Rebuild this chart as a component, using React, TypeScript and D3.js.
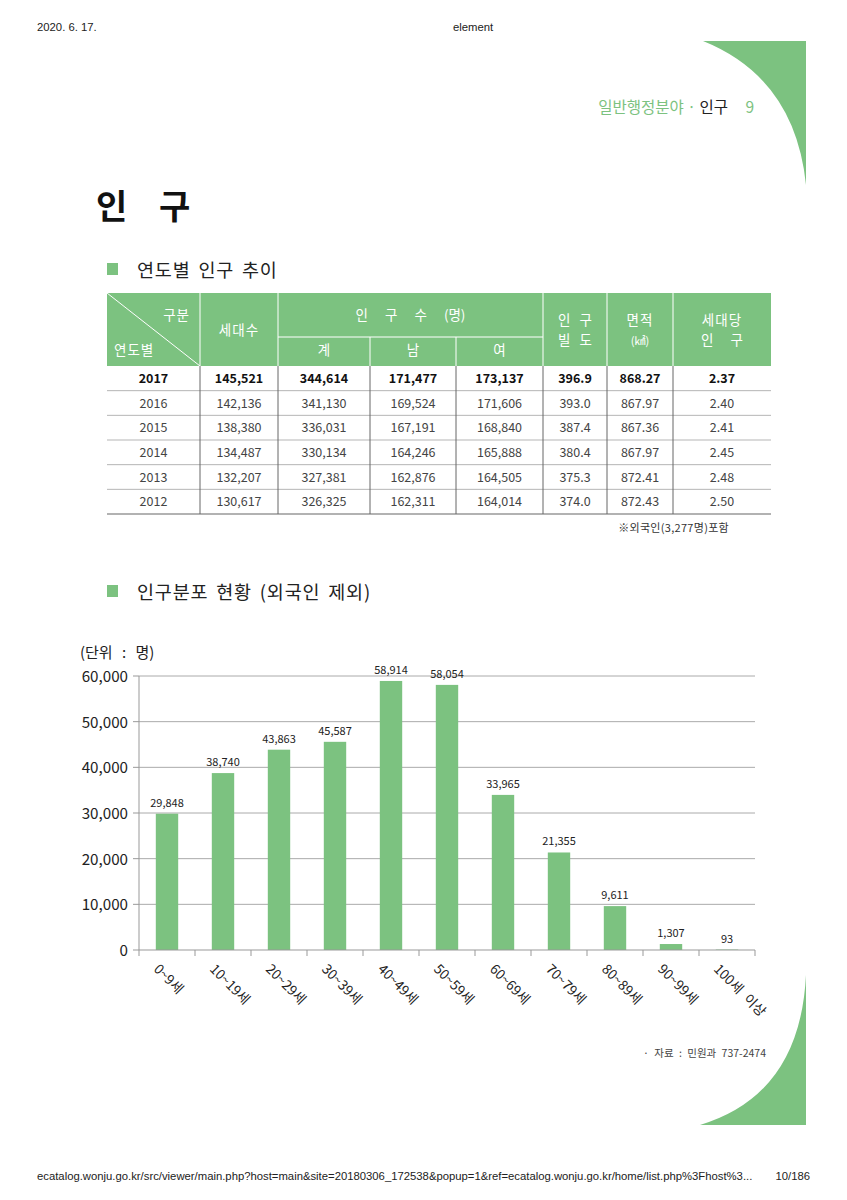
import React, { useEffect } from "react";
import * as d3 from "d3";

// ---------- data ----------
const ageGroups = ["0~9세", "10~19세", "20~29세", "30~39세", "40~49세", "50~59세", "60~69세", "70~79세", "80~89세", "90~99세", "100세 이상"];
const population = [29848, 38740, 43863, 45587, 58914, 58054, 33965, 21355, 9611, 1307, 93];
const yTicks = [0, 10000, 20000, 30000, 40000, 50000, 60000];

const years = ["2017", "2016", "2015", "2014", "2013", "2012"];
const households = ["145,521", "142,136", "138,380", "134,487", "132,207", "130,617"];
const popTotal = ["344,614", "341,130", "336,031", "330,134", "327,381", "326,325"];
const popMale = ["171,477", "169,524", "167,191", "164,246", "162,876", "162,311"];
const popFemale = ["173,137", "171,606", "168,840", "165,888", "164,505", "164,014"];
const density = ["396.9", "393.0", "387.4", "380.4", "375.3", "374.0"];
const area = ["868.27", "867.97", "867.36", "867.97", "872.41", "872.43"];
const perHousehold = ["2.37", "2.40", "2.41", "2.45", "2.48", "2.50"];

const GREEN = "#7cc280";
const KR = "'Noto Sans CJK KR', 'Noto Sans', sans-serif";
const ARIAL = "'Liberation Sans', Arial, sans-serif";

export default function App() {
  useEffect(() => {
    document.body.style.margin = "0";
  }, []);

  // ---------- table geometry ----------
  const colEdges = [107, 200, 278, 370, 456, 543, 607, 673, 771];
  const headTop = 293, headMid = 337, headBot = 366, tableBot = 514;
  const rowY = d3.scaleBand<number>().domain(d3.range(years.length)).range([headBot, tableBot]);
  const cols = [years, households, popTotal, popMale, popFemale, density, area, perHousehold];
  const colCenter = (i: number) => (colEdges[i] + colEdges[i + 1]) / 2;

  // ---------- chart geometry ----------
  const x0 = 139, x1 = 755, yTop = 676, yBot = 950;
  const x = d3.scaleBand<string>().domain(ageGroups).range([x0, x1]).paddingInner(0.6).paddingOuter(0.3);
  const y = d3.scaleLinear().domain([0, 60000]).range([yBot, yTop]);
  const step = x.step();
  const fmt = d3.format(",");

  return (
    <div style={{ position: "absolute", left: 0, top: 0 }}>
      <svg width={847} height={1200} viewBox="0 0 847 1200" style={{ display: "block", background: "#fff" }}>
        {/* browser header/footer */}
        <text x={37} y={31} fontFamily={ARIAL} fontSize={11.3} fill="#222">2020. 6. 17.</text>
        <text x={473} y={31} fontFamily={ARIAL} fontSize={11.3} fill="#222" textAnchor="middle">element</text>
        <text x={37} y={1180} fontFamily={ARIAL} fontSize={11.3} fill="#222">ecatalog.wonju.go.kr/src/viewer/main.php?host=main&amp;site=20180306_172538&amp;popup=1&amp;ref=ecatalog.wonju.go.kr/home/list.php%3Fhost%3...</text>
        <text x={810} y={1180} fontFamily={ARIAL} fontSize={11.3} fill="#222" textAnchor="end">10/186</text>

        {/* decorative shapes */}
        <path d="M703,41 Q795,78 806,185 L806,41 Z" fill={GREEN} />
        <path d="M700,1125 Q800,1095 806,975 L806,1125 Z" fill={GREEN} />

        {/* page header */}
        <text x={754} y={113} fontFamily={KR} fontSize={15.5} textAnchor="end" style={{ whiteSpace: "pre" }}>
          <tspan fill={GREEN}>일반행정분야 · </tspan>
          <tspan fill="#222">인구</tspan>
          <tspan fill={GREEN}>{"     9"}</tspan>
        </text>

        {/* title */}
        <text y={219} fontFamily={KR} fontSize={34} fontWeight={700} fill="#111">
          <tspan x={96}>인</tspan>
          <tspan x={159}>구</tspan>
        </text>

        {/* section 1 */}
        <rect x={107} y={263} width={11} height={12} fill={GREEN} />
        <text x={137} y={277} fontFamily={KR} fontSize={18.5} letterSpacing={0.8} wordSpacing={3} fill="#222" style={{ whiteSpace: "pre" }}>연도별 인구 추이</text>

        {/* table header */}
        <rect x={colEdges[0]} y={headTop} width={colEdges[8] - colEdges[0]} height={headBot - headTop} fill={GREEN} />
        {colEdges.slice(1, 8).map((cx, i) => (
          <line key={"hv" + i} x1={cx} x2={cx} y1={i === 2 || i === 3 ? headMid : headTop} y2={headBot} stroke="#fff" strokeWidth={1} />
        ))}
        <line x1={colEdges[2]} x2={colEdges[5]} y1={headMid} y2={headMid} stroke="#fff" strokeWidth={1} />
        <line x1={colEdges[0]} y1={headTop} x2={colEdges[1]} y2={headBot} stroke="#fff" strokeWidth={1} />
        <g fontFamily={KR} fontSize={13.5} fill="#fff" style={{ whiteSpace: "pre" }}>
          <text x={190} y={320} textAnchor="end" letterSpacing={1}>구분</text>
          <text x={114} y={355} letterSpacing={1}>연도별</text>
          <text x={colCenter(1)} y={335} textAnchor="middle" letterSpacing={1}>세대수</text>
          <text x={(colEdges[2] + colEdges[5]) / 2} y={320} textAnchor="middle" wordSpacing={14}>인 구 수 (명)</text>
          <text x={colCenter(2)} y={355} textAnchor="middle">계</text>
          <text x={colCenter(3)} y={355} textAnchor="middle">남</text>
          <text x={colCenter(4)} y={355} textAnchor="middle">여</text>
          <text x={colCenter(5)} y={325} textAnchor="middle" wordSpacing={6}>인 구</text>
          <text x={colCenter(5)} y={345} textAnchor="middle" wordSpacing={6}>빌 도</text>
          <text x={colCenter(6)} y={325} textAnchor="middle" letterSpacing={1}>면적</text>
          <text x={colCenter(6)} y={345} textAnchor="middle" fontSize={11}>(㎢)</text>
          <text x={colCenter(7)} y={325} textAnchor="middle" letterSpacing={1}>세대당</text>
          <text x={colCenter(7)} y={345} textAnchor="middle" wordSpacing={14}>인 구</text>
        </g>

        {/* table body */}
        {years.map((_, r) => (
          <line key={"hl" + r} x1={colEdges[0]} x2={colEdges[8]} y1={(rowY(r) as number) + rowY.bandwidth()} y2={(rowY(r) as number) + rowY.bandwidth()} stroke={r === years.length - 1 ? "#999" : "#b5b5b5"} strokeWidth={r === years.length - 1 ? 1.5 : 1} />
        ))}
        {colEdges.slice(1, 8).map((cx, i) => (
          <line key={"bv" + i} x1={cx} x2={cx} y1={headBot} y2={tableBot} stroke="#666" strokeWidth={1} />
        ))}
        {years.map((_, r) => (
          <g key={"row" + r}>
            {cols.map((col, c) => (
              <text key={c} x={colCenter(c)} y={(rowY(r) as number) + rowY.bandwidth() / 2 + 4.5} textAnchor="middle" fontFamily={KR} fontSize={12.5} fill={r === 0 ? "#111" : "#444"} fontWeight={r === 0 ? 600 : 400}>
                {col[r]}
              </text>
            ))}
          </g>
        ))}
        <text x={729} y={532} textAnchor="end" fontFamily={KR} fontSize={11} letterSpacing={0.3} fill="#333">※외국인(3,277명)포함</text>

        {/* section 2 */}
        <rect x={107} y={585} width={11} height={12} fill={GREEN} />
        <text x={137} y={599} fontFamily={KR} fontSize={18.5} letterSpacing={0.8} wordSpacing={3} fill="#222" style={{ whiteSpace: "pre" }}>인구분포 현황 (외국인 제외)</text>
        <text x={80} y={658} fontFamily={KR} fontSize={15} wordSpacing={6} fill="#222" style={{ whiteSpace: "pre" }}>(단위 : 명)</text>

        {/* chart grid + y axis */}
        {yTicks.map((t) => (
          <g key={"yt" + t}>
            {t > 0 && <line x1={x0} x2={x1} y1={y(t)} y2={y(t)} stroke="#aaa" strokeWidth={1} />}
            <line x1={x0 - 6} x2={x0} y1={y(t)} y2={y(t)} stroke="#999" strokeWidth={1} />
            <text x={128} y={y(t) + 6} textAnchor="end" fontFamily={KR} fontSize={15.2} fill="#222">{fmt(t)}</text>
          </g>
        ))}
        <line x1={x0} x2={x0} y1={yTop} y2={yBot} stroke="#999" strokeWidth={1} />

        {/* bars */}
        {ageGroups.map((g, i) => (
          <g key={"bar" + i}>
            <rect x={x(g)} y={y(population[i])} width={x.bandwidth()} height={yBot - y(population[i])} fill={GREEN} />
            <text x={(x(g) as number) + x.bandwidth() / 2} y={y(population[i]) - 7} textAnchor="middle" fontFamily={KR} fontSize={11} fill="#222">{fmt(population[i])}</text>
          </g>
        ))}

        {/* x axis */}
        <line x1={x0} x2={x1} y1={yBot} y2={yBot} stroke="#999" strokeWidth={1} />
        {d3.range(ageGroups.length + 1).map((i) => (
          <line key={"xt" + i} x1={x0 + i * step} x2={x0 + i * step} y1={yBot} y2={yBot + 6} stroke="#999" strokeWidth={1} />
        ))}
        {ageGroups.map((g) => {
          const cx = (x(g) as number) + x.bandwidth() / 2 - 14;
          return (
            <text key={"xl" + g} transform={`translate(${cx},${970}) rotate(45)`} fontFamily={KR} fontSize={13.5} wordSpacing={4} fill="#222" style={{ whiteSpace: "pre" }}>{g}</text>
          );
        })}

        <text x={766} y={1057} textAnchor="end" fontFamily={KR} fontSize={10.5} wordSpacing={3} fill="#444" style={{ whiteSpace: "pre" }}>· 자료 : 민원과 737-2474</text>
      </svg>
    </div>
  );
}
